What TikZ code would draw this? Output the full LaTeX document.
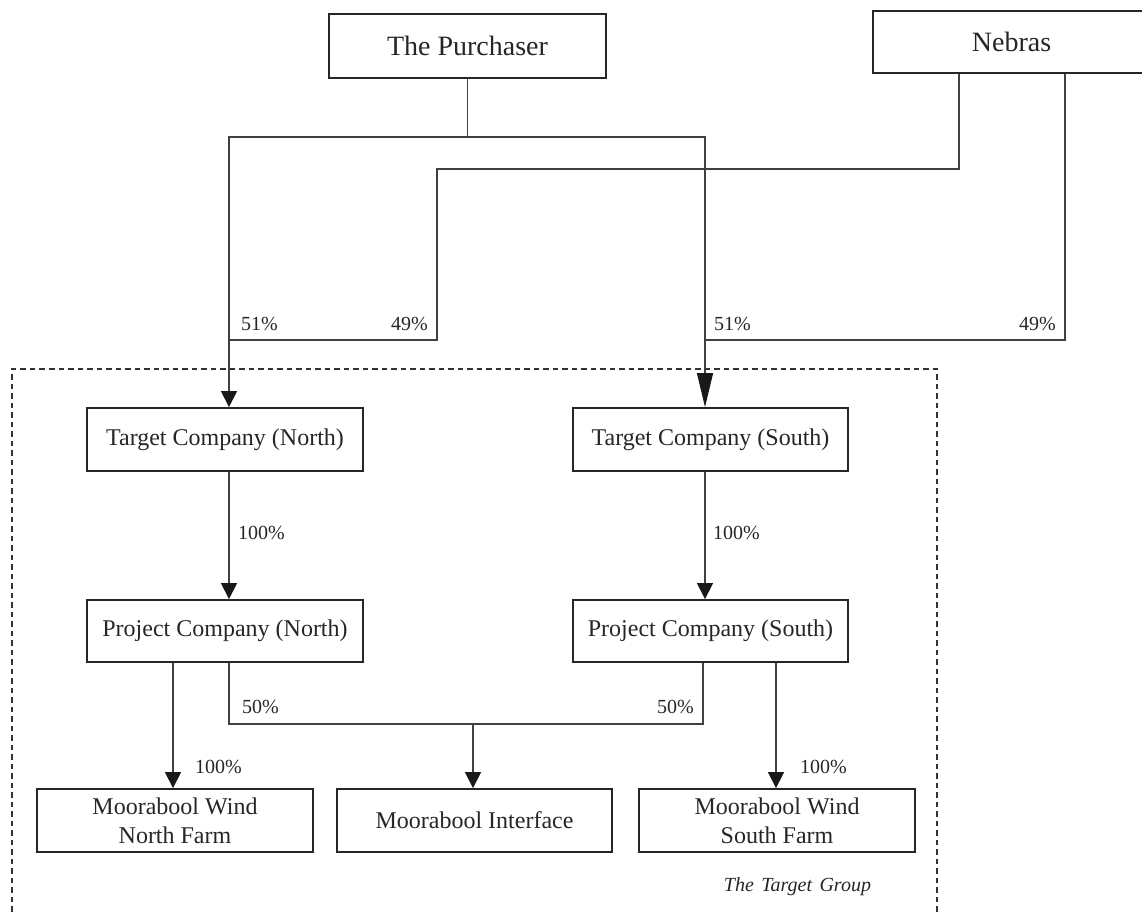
\documentclass[tikz,border=0pt]{standalone}
\usepackage{fontspec}
\setmainfont{Liberation Serif}
\usetikzlibrary{arrows.meta}
\tikzset{
  ent/.style={draw=black!85, line width=1.8pt, rectangle, inner sep=0pt, align=center,
    font=\fontsize{24}{29}\selectfont, text=black!85},
  topent/.style={ent, font=\fontsize{28}{32}\selectfont},
  conn/.style={draw=black!75, line width=1.2pt},
  arr/.style={conn, -{Triangle[width=16pt,length=16pt,color=black!90]}},
  arrlong/.style={conn, -{Triangle[width=16pt,length=34pt,color=black!90]}},
  pct/.style={font=\fontsize{20}{24}\selectfont, inner sep=0pt, text=black!85},
  grp/.style={draw=black!80, line width=2pt, dash pattern=on 5.5pt off 4pt},
}
\begin{document}
\begin{tikzpicture}[x=1pt,y=-1pt]
\useasboundingbox (0,0) rectangle (1142,912);
% group frame
\draw[grp] (12,940) -- (12,369) -- (937,369) -- (937,940);
% boxes
\node[topent, minimum width=277pt, minimum height=64pt] (pur) at (467.5,46) {The Purchaser};
\node[topent, minimum width=277pt, minimum height=62pt] (neb) at (1011.5,42) {Nebras};
\node[ent, minimum width=276pt, minimum height=63pt] (tcn) at (225,439.5) {Target Company (North)};
\node[ent, minimum width=275pt, minimum height=63pt] (tcs) at (710.5,439.5) {Target Company (South)};
\node[ent, minimum width=276pt, minimum height=62pt] (pcn) at (225,631) {Project Company (North)};
\node[ent, minimum width=275pt, minimum height=62pt] (pcs) at (710.5,631) {Project Company (South)};
\node[ent, minimum width=276pt, minimum height=63pt] (fn) at (175,820.5) {Moorabool Wind\\North Farm};
\node[ent, minimum width=275pt, minimum height=63pt] (fi) at (474.5,820.5) {Moorabool Interface};
\node[ent, minimum width=276pt, minimum height=63pt] (fs) at (777,820.5) {Moorabool Wind\\South Farm};
% x positions of connectors
\coordinate (xa) at (229,0);
\coordinate (xb) at (705,0);
\coordinate (xd) at (959,0);
\coordinate (xe) at (1065,0);
\coordinate (xn) at (173,0);
\coordinate (xf) at (703,0);
\coordinate (xs) at (776,0);
% junctions
\coordinate (pj) at (467.5,137);
\coordinate (n1) at (437,169);
\coordinate (n2) at (437,340);
\coordinate (n3) at (229,340);
\coordinate (s3) at (705,340);
\coordinate (mj) at (473,724);
% connectors
\draw[conn] (pur.south) -- (pj);
\draw[arr] (pj) -| (tcn.north -| xa);
\draw[arrlong] (pj) -| (tcs.north -| xb);
\draw[conn] (neb.south -| xd) |- (n1) -- (n2) -- (n3);
\draw[conn] (neb.south -| xe) |- (s3);
\draw[arr] (tcn.south -| xa) -- (pcn.north -| xa);
\draw[arr] (tcs.south -| xb) -- (pcs.north -| xb);
\draw[arr] (pcn.south -| xn) -- (fn.north -| xn);
\draw[conn] (pcn.south -| xa) |- (mj) -| (pcs.south -| xf);
\draw[arr] (mj) -- (fi.north -| mj);
\draw[arr] (pcs.south -| xs) -- (fs.north -| xs);
% labels
\node[pct, anchor=base west] (l1) at (241,330) {51\%};
\node[pct, anchor=base east] (l2) at (428,330) {49\%};
\node[pct, anchor=base west] (l3) at (714,330) {51\%};
\node[pct, anchor=base east] (l4) at (1056,330) {49\%};
\node[pct, anchor=base west] (l5) at (238,539) {100\%};
\node[pct, anchor=base west] (l6) at (713,539) {100\%};
\node[pct, anchor=base west] (l7) at (242,713) {50\%};
\node[pct, anchor=base east] (l8) at (694,713) {50\%};
\node[pct, anchor=base west] (l9) at (195,773) {100\%};
\node[pct, anchor=base west] (l10) at (800,773) {100\%};
\node[pct, anchor=base, font=\fontsize{20}{24}\selectfont\itshape] (tg) at (797.5,891) {The\hspace{0.37em}Target\hspace{0.37em}Group};
\end{tikzpicture}
\end{document}
